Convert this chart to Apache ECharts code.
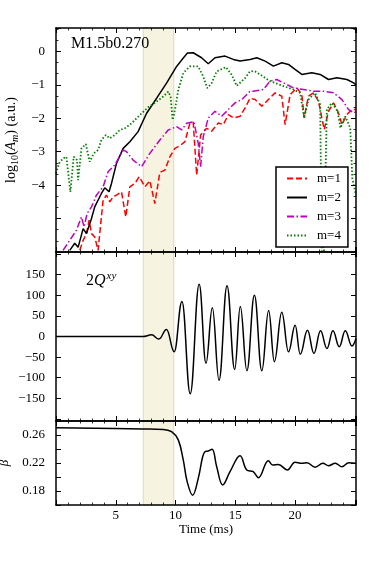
<!DOCTYPE html>
<html>
<head>
<meta charset="utf-8">
<script src="https://cdn.jsdelivr.net/npm/echarts@6/dist/echarts.min.js"></script>
<style>
  html,body{margin:0;padding:0;background:#fff;}
  #main{width:374px;height:561px;}
</style>
</head>
<body>
<div id="main"></div>
<script>
// ---- data ----
// top panel: log10(A_m)
var m1T = [1.99,2.27,2.55,2.77,2.97,3.24,3.52,3.8,3.94,4.22,4.5,4.78,5.06,5.48,5.84,6.18,6.6,6.96,7.44,7.85,8.27,8.69,9.11,9.53,9.95,10.37,10.79,11.2,11.48,11.77,12.1,12.6,13.02,13.58,14.0,14.42,14.84,15.4,15.82,16.24,16.66,17.22,17.77,18.33,18.89,19.17,19.59,20.15,20.57,20.76,21.12,21.54,21.96,22.44,22.8,23.22,23.64,23.92,24.34,24.76,25.1];
var m1V = [-5.95,-5.65,-5.45,-5.05,-5.45,-5.55,-5.95,-4.95,-4.45,-4.3,-4.5,-4.35,-4.3,-4.2,-4.95,-4.05,-3.95,-3.75,-4.05,-3.87,-4.55,-3.62,-3.55,-3.15,-2.9,-2.82,-2.7,-2.15,-2.12,-3.7,-2.5,-2.3,-2.39,-2.14,-2.19,-1.89,-1.99,-1.94,-1.69,-1.4,-1.44,-1.64,-1.44,-1.24,-1.34,-2.19,-1.29,-1.09,-1.29,-1.99,-1.34,-1.24,-1.49,-2.34,-1.79,-1.54,-1.84,-2.19,-1.89,-1.74,-1.74];

var m2T = [1.15,1.57,1.85,2.27,2.55,2.97,3.24,3.8,4.08,4.44,4.64,5.06,5.62,6.18,6.87,7.58,8.42,9.25,10.09,10.65,11.0,11.48,12.18,12.74,13.3,14.14,14.84,15.4,16.24,16.8,17.5,18.19,18.9,19.45,20.0,20.57,21.4,22.1,22.8,23.5,24.34,24.9,25.1];
var m2V = [-5.95,-5.74,-5.86,-5.3,-5.45,-5.0,-4.65,-4.25,-4.08,-4.2,-3.95,-3.35,-2.9,-2.7,-2.4,-1.85,-1.4,-0.95,-0.45,-0.2,-0.05,-0.04,-0.19,-0.37,-0.19,-0.14,-0.24,-0.29,-0.24,-0.19,-0.29,-0.44,-0.34,-0.39,-0.54,-0.69,-0.64,-0.69,-0.84,-0.79,-0.84,-0.94,-1.0];

var m3T = [0.59,1.71,2.13,2.35,2.6,2.97,3.38,3.94,4.36,4.92,5.62,5.9,6.45,7.16,7.85,8.69,9.39,10.09,10.51,10.93,11.54,11.9,12.1,12.18,12.32,12.74,13.3,13.86,14.42,14.98,15.54,16.24,16.51,17.35,17.91,18.47,19.03,19.87,20.7,21.54,22.38,23.22,23.92,24.48,24.9,25.1];
var m3V = [-5.95,-5.35,-4.95,-5.25,-4.85,-4.65,-4.3,-4.05,-3.6,-3.4,-2.95,-3.0,-3.25,-3.45,-3.05,-2.65,-2.35,-2.25,-2.35,-2.15,-2.1,-2.75,-3.45,-3.5,-2.55,-1.99,-1.79,-1.94,-1.74,-1.54,-1.44,-1.19,-1.19,-1.14,-0.89,-0.84,-0.94,-1.09,-1.14,-1.19,-1.19,-1.24,-1.44,-1.74,-1.84,-1.8];

var m4T = [0,0.25,0.59,0.87,1.2,1.48,1.76,1.85,2.13,2.49,2.82,3.16,3.52,3.8,4.17,4.5,4.92,5.34,5.76,6.32,7.02,7.71,8.42,8.97,9.39,9.59,9.76,9.95,10.23,10.65,11.2,11.9,12.32,12.66,13.02,13.44,14.22,14.7,15.12,15.82,16.24,16.66,17.07,17.91,19.03,19.87,20.43,20.76,21.12,21.68,22.1,22.3,22.36,22.66,23.08,23.56,23.8,24.2,24.62,24.79,25.1];
var m4V = [-3.65,-3.35,-3.2,-3.15,-4.2,-3.15,-3.25,-3.85,-2.9,-2.77,-3.3,-3.05,-2.95,-2.65,-2.5,-2.6,-2.5,-2.35,-2.3,-2.15,-1.9,-1.67,-1.5,-1.35,-1.2,-1.35,-2.05,-1.75,-1.15,-0.65,-0.45,-0.45,-0.75,-1.1,-0.95,-0.6,-0.47,-0.7,-1.03,-0.8,-0.59,-0.6,-0.69,-0.89,-1.04,-1.14,-1.24,-1.99,-1.44,-1.24,-1.59,-8,-8,-1.74,-1.54,-1.79,-2.29,-1.94,-2.29,-3.79,-4.3];

// middle panel: 2Q^xy (extrema)
var qT = [0,7.27,8.0,8.61,9.25,9.89,10.54,11.23,11.98,12.55,13.08,13.64,14.31,14.95,15.42,15.97,16.6,17.22,17.79,18.27,18.89,19.45,20.01,20.43,21.04,21.58,22.13,22.67,23.17,23.7,24.2,24.76,25.1];
var qV = [0,0,4,-6,17,-37,85,-139,127,-65,70,-106,123,-80,73,-83,100,-83,63,-61,59,-37,27,-43,15,-41,14,-29,14,-25,14,-23,-5];

// bottom panel: beta
var bT = [0,7.27,8.97,9.67,10.23,10.65,10.98,11.43,11.9,12.27,12.46,12.7,13.05,13.44,13.95,14.56,15.4,15.96,16.5,16.93,17.77,18.14,18.6,19.36,20.0,20.57,21.0,21.68,22.33,22.8,23.36,23.92,24.5,25.1];
var bV = [0.2704,0.2686,0.268,0.2647,0.253,0.224,0.193,0.174,0.198,0.229,0.236,0.237,0.2396,0.215,0.1886,0.2076,0.2304,0.21,0.2076,0.199,0.2233,0.217,0.218,0.21,0.221,0.2196,0.2204,0.2139,0.2196,0.2161,0.2196,0.2147,0.2204,0.2196];

var legendNames = ['m=1','m=2','m=3','m=4'];
var shadeFrom = 7.3, shadeTo = 9.85;
var qTicks = [-200,-150,-100,-50,0,50,100,150,200];
var qLabels = [-150,-100,-50,0,50,100,150];

var FONT = "'Liberation Serif','DejaVu Serif',serif";

function zip(t, v){
    var out = [];
    for(var i=0;i<t.length;i++){ out.push([t[i], v[i]]); }
    return out;
}
function minus(s){ return String(s).replace('-', '\u2212'); }

var grids = [
    {left:56, right:18, top:28, height:224, containLabel:false, outerBoundsMode:'none'},
    {left:56, right:18, top:252, height:169, containLabel:false, outerBoundsMode:'none'},
    {left:56, right:18, top:421, height:84, containLabel:false, outerBoundsMode:'none'}
];

function xAx(g, pos, labels){
    return {
        type:'value', gridIndex:g, position:pos, min:0, max:25.1, interval:5, z:5,
        axisLine:{show:true, onZero:false, lineStyle:{color:'#000', width:1.5}},
        axisTick:{show:true, inside:true, length:5, lineStyle:{color:'#000', width:1}},
        minorTick:{show:true, splitNumber:5, length:2.5, lineStyle:{color:'#000', width:0.8}},
        splitLine:{show:false},
        axisLabel:{show:labels, margin:4, color:'#000', fontFamily:FONT, fontSize:13,
            formatter:function(v){ return (v>0 && v<=20 && Math.abs(v%5)<1e-6) ? String(v) : ''; }},
        name: labels ? 'Time (ms)' : '',
        nameLocation:'middle', nameGap:17,
        nameTextStyle:{color:'#000', fontFamily:FONT, fontSize:13}
    };
}

function yAx(g, pos, cfg){
    var a = {
        type:'value', gridIndex:g, position:pos, z:5,
        axisLine:{show:true, onZero:false, lineStyle:{color:'#000', width:1.5}},
        axisTick:{show:true, inside:true, length:5, lineStyle:{color:'#000', width:1}},
        splitLine:{show:false},
        axisLabel:{show:false}
    };
    for(var k in cfg){ a[k] = cfg[k]; }
    return a;
}

var labelBase = {show:true, margin:11, color:'#000', fontFamily:FONT, fontSize:13};

var y0label = Object.assign({}, labelBase, {formatter:function(v){
    return (v>=-4.01 && Math.abs(v-Math.round(v))<1e-6) ? minus(Math.round(v)) : '';
}});
var y1label = Object.assign({}, labelBase, {customValues:qLabels, formatter:function(v){ return minus(v); }});
var y2label = Object.assign({}, labelBase, {formatter:function(v){
    var r = Math.round(v*100);
    return (r==18 || r==22 || r==26) ? (r/100).toFixed(2) : '';
}});

var y0minor = {show:true, splitNumber:3, length:2.5, lineStyle:{color:'#000', width:0.8}};

var yAxes = [
    yAx(0,'left',{min:-6, max:0.7, interval:1, minorTick:y0minor, axisLabel:y0label,
        name:'{n|log}{s|10}{n|(}{i|A}{si|m}{n|) (a.u.)}', nameLocation:'middle', nameGap:25, nameRotate:90,
        nameTextStyle:{color:'#000', fontFamily:FONT, fontSize:14, rich:{
            n:{fontSize:14, fontFamily:FONT, color:'#000'},
            s:{fontSize:10, fontFamily:FONT, color:'#000', padding:[7,0,0,0]},
            i:{fontSize:14, fontFamily:FONT, fontStyle:'italic', color:'#000'},
            si:{fontSize:10, fontFamily:FONT, fontStyle:'italic', color:'#000', padding:[7,0,0,0]}
        }}}),
    yAx(0,'right',{min:-6, max:0.7, interval:1, minorTick:y0minor}),
    yAx(1,'left',{min:-205, max:205, axisTick:{show:true, inside:true, length:5, customValues:qTicks, lineStyle:{color:'#000', width:1}}, axisLabel:y1label}),
    yAx(1,'right',{min:-205, max:205, axisTick:{show:true, inside:true, length:5, customValues:qTicks, lineStyle:{color:'#000', width:1}}}),
    yAx(2,'left',{min:0.16, max:0.28, interval:0.02, axisLabel:y2label,
        name:'\u03b2', nameLocation:'middle', nameGap:42, nameRotate:90,
        nameTextStyle:{color:'#000', fontFamily:FONT, fontSize:13, fontStyle:'italic'}}),
    yAx(2,'right',{min:0.16, max:0.28, interval:0.02})
];

var xAxes = [xAx(0,'bottom',false), xAx(0,'top',false), xAx(1,'bottom',false), xAx(1,'top',false), xAx(2,'bottom',true), xAx(2,'top',false)];

function shade(g){
    return {
        type:'line', xAxisIndex:2*g, yAxisIndex:2*g, data:[], silent:true, z:1,
        markArea:{silent:true,
            itemStyle:{color:'#f6f4e1', borderColor:'#dcdac4', borderWidth:1},
            data:[[{xAxis:shadeFrom},{xAxis:shadeTo}]]}
    };
}

var myChart = echarts.init(document.getElementById('main'));
var option = {
    animation:false,
    backgroundColor:'#fff',
    grid: grids,
    xAxis: xAxes,
    yAxis: yAxes,
    legend:{
        data:legendNames, orient:'vertical', left:276, top:167, z:10,
        backgroundColor:'#fff', borderColor:'#000', borderWidth:1.5, borderRadius:0,
        padding:[5,7,5,10], itemWidth:20, itemHeight:14, itemGap:6,
        itemStyle:{opacity:0},
        textStyle:{color:'#000', fontFamily:FONT, fontSize:13, padding:[0,0,0,5]}
    },
    graphic:[
        {type:'text', left:71, top:36, z:10, style:{text:'M1.5b0.270', fill:'#000', font:'16px ' + FONT}},
        {type:'text', left:86, top:271, z:10, style:{
            text:'{a|2}{q|Q}{s|xy}', fill:'#000',
            rich:{
                a:{fontSize:16, fontFamily:FONT, fill:'#000'},
                q:{fontSize:16, fontFamily:FONT, fontStyle:'italic', fill:'#000'},
                s:{fontSize:11, fontFamily:FONT, fontStyle:'italic', fill:'#000', padding:[0,0,8,1]}
            }}}
    ],
    series:[
        shade(0), shade(1), shade(2),
        {name:'m=1', type:'line', xAxisIndex:0, yAxisIndex:0, data:zip(m1T,m1V), symbol:'none', z:3,
            lineStyle:{color:'#ff0000', width:1.5, type:[6,3]}, itemStyle:{color:'#ff0000'}},
        {name:'m=2', type:'line', xAxisIndex:0, yAxisIndex:0, data:zip(m2T,m2V), symbol:'none', z:3,
            lineStyle:{color:'#000', width:1.5}, itemStyle:{color:'#000'}},
        {name:'m=3', type:'line', xAxisIndex:0, yAxisIndex:0, data:zip(m3T,m3V), symbol:'none', z:3,
            lineStyle:{color:'#c000c0', width:1.5, type:[7,2.5,1.5,2.5]}, itemStyle:{color:'#c000c0'}},
        {name:'m=4', type:'line', xAxisIndex:0, yAxisIndex:0, data:zip(m4T,m4V), symbol:'none', z:3,
            lineStyle:{color:'#008000', width:1.8, type:[1.5,2]}, itemStyle:{color:'#008000'}},
        {name:'2Qxy', type:'line', xAxisIndex:2, yAxisIndex:2, data:zip(qT,qV), symbol:'none',
            smooth:0.42, smoothMonotone:'x', z:3,
            lineStyle:{color:'#000', width:1.5}},
        {name:'beta', type:'line', xAxisIndex:4, yAxisIndex:4, data:zip(bT,bV), symbol:'none', smooth:0.4, z:3,
            lineStyle:{color:'#000', width:1.5}}
    ]
};
myChart.setOption(option);
</script>
</body>
</html>
